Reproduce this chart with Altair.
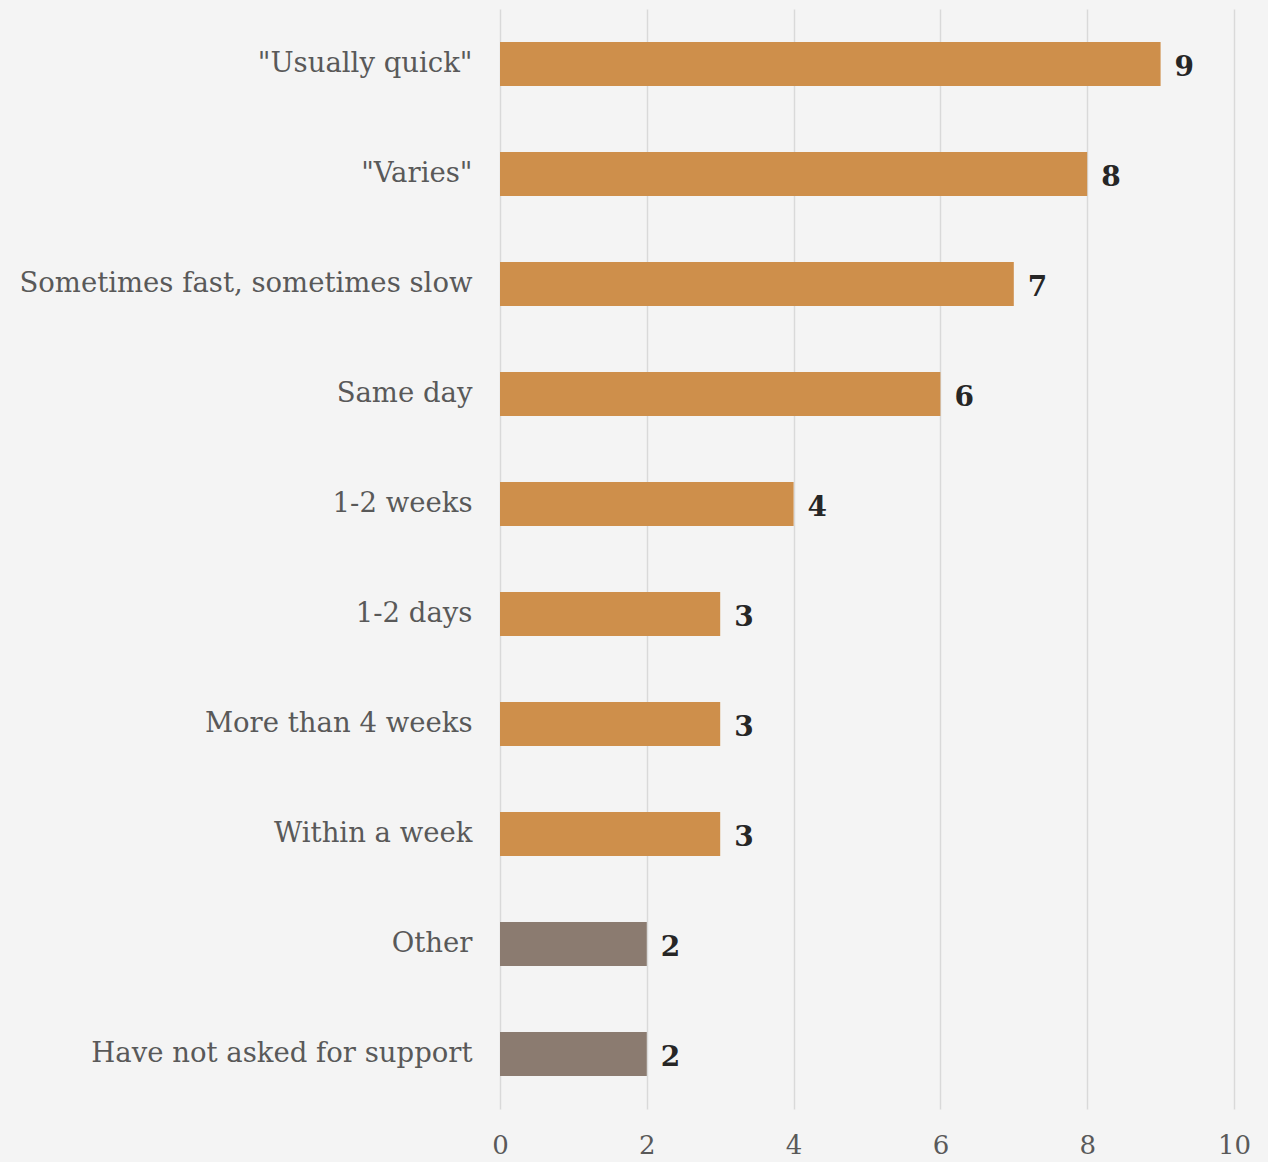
import altair as alt
import pandas as pd

categories = ['"Usually quick"', '"Varies"', "Sometimes fast, sometimes slow", "Same day",
              "1-2 weeks", "1-2 days", "More than 4 weeks", "Within a week", "Other",
              "Have not asked for support"]
values = [9, 8, 7, 6, 4, 3, 3, 3, 2, 2]
groups = ["main"] * 8 + ["other"] * 2
x_ticks = [0, 2, 4, 6, 8, 10]

df = pd.DataFrame({"cat": categories, "val": values, "grp": groups})

FONT = "DejaVu Serif"

y = alt.Y("cat:N", sort=None, title=None,
          scale=alt.Scale(paddingInner=0.6, paddingOuter=0.3),
          axis=alt.Axis(labelFont=FONT, labelFontSize=27.5, labelColor="#595959",
                        labelPadding=28, ticks=False, domain=False, grid=False,
                        labelLimit=600))
x = alt.X("val:Q", title=None,
          scale=alt.Scale(domain=[0, 10]),
          axis=alt.Axis(values=x_ticks, format="d", labelFont=FONT, labelFontSize=26,
                        labelColor="#595959", domain=False, ticks=False, grid=True,
                        gridColor="#d9d9d9", gridWidth=1.5, labelPadding=23,
                        labelFlush=False))

bars = alt.Chart(df).mark_bar().encode(
    x=x, y=y,
    color=alt.Color("grp:N", legend=None,
                    scale=alt.Scale(domain=["main", "other"], range=["#CE8F4B", "#8B7B70"]))
)

text = alt.Chart(df).mark_text(align="left", baseline="middle", dx=14, dy=4,
                               font=FONT, fontSize=28, fontWeight="bold",
                               color="#262626").encode(
    x="val:Q", y=alt.Y("cat:N", sort=None), text="val:Q")

chart = (bars + text).properties(
    width=734, height=1100,
    autosize=alt.AutoSizeParams(type="none"),
    padding={"left": 500, "top": 9, "right": 34, "bottom": 53},
    background="#f4f4f4",
).configure_view(stroke=None)

chart.save("out.html", embed_options={"renderer": "svg", "actions": False})
